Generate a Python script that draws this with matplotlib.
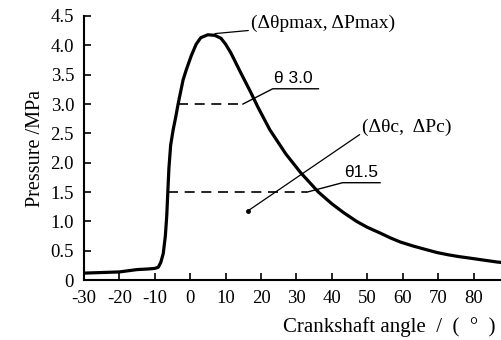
import numpy as np
import matplotlib
matplotlib.use("Agg")
import matplotlib.pyplot as plt

plt.rcParams["axes.unicode_minus"] = False

# crank angle (deg) and cylinder pressure (MPa)
angle = [-30, -25, -20, -15, -12, -10, -9, -8.3, -7.6, -7.0, -6.6, -6.3, -6.0,
         -5.5, -4.8, -4.0, -3.4, -2.0, -1.0, 0.3, 1.7, 3.0, 5.0, 7.0, 8.7, 10,
         11.5, 14.3, 17.1, 19.1, 22.5, 27, 31.2, 36.2, 40, 43.3, 47, 50, 53.7,
         56.5, 59.3, 63, 66, 69.7, 73, 76, 79, 83, 86.5, 88]
pressure = [0.12, 0.13, 0.14, 0.18, 0.19, 0.2, 0.22, 0.3, 0.45, 0.75, 1.1, 1.5,
            1.9, 2.3, 2.56, 2.8, 3.0, 3.41, 3.6, 3.82, 4.02, 4.13, 4.18, 4.17,
            4.12, 4.02, 3.87, 3.53, 3.2, 2.95, 2.56, 2.15, 1.83, 1.5, 1.3, 1.15,
            1.0, 0.9, 0.8, 0.72, 0.65, 0.58, 0.53, 0.47, 0.43, 0.4, 0.375,
            0.34, 0.31, 0.3]

xticks = [-30, -20, -10, 0, 10, 20, 30, 40, 50, 60, 70, 80]
yticks = [0, 0.5, 1.0, 1.5, 2.0, 2.5, 3.0, 3.5, 4.0, 4.5]
ytick_labels = ["0", "0.5", "1.0", "1.5", "2.0", "2.5", "3.0", "3.5", "4.0", "4.5"]

# dashed reference levels: (level, x start, x end)
level_30 = (3.0, -3.4, 14.9)
level_15 = (1.5, -6.2, 33.0)
combustion_point = (16.3, 1.18)

serif = "Liberation Serif"
sans = "Liberation Sans"

fig = plt.figure(figsize=(5.02, 3.40), dpi=100)
ax = fig.add_axes([0.167, 0.176, 0.833, 0.777])

ax.plot(angle, pressure, color="black", lw=2.3, solid_joinstyle="round")

ax.set_xlim(-29.6, 88)
ax.set_ylim(0, 4.5)
ax.set_xticks(xticks)
ax.set_yticks(yticks)
ax.set_yticklabels(ytick_labels)
ax.tick_params(direction="in", length=5, width=1.2, labelsize=13.5, pad=7)
for lab in ax.get_xticklabels() + ax.get_yticklabels():
    lab.set_family(serif)
for side in ["top", "right"]:
    ax.spines[side].set_visible(False)
for side in ["left", "bottom"]:
    ax.spines[side].set_linewidth(1.5)

ax.set_xlabel("Crankshaft angle  /  (  °  )", family=serif, fontsize=15,
              labelpad=2)
ax.xaxis.set_label_coords(0.73, -0.14)
ax.set_ylabel("Pressure /MPa", family=serif, fontsize=14.5, labelpad=4)

# dashed levels
for lvl, x0, x1 in [level_30, level_15]:
    ax.plot([x0, x1], [lvl, lvl], color="black", lw=1.2, ls=(0, (6, 4)))

# peak label
ip = int(np.argmax(pressure))
ax.annotate("(Δθpmax, ΔPmax)", xy=(angle[ip + 1], pressure[ip + 1] + 0.03),
            xytext=(17.2, 4.37), family=serif, fontsize=14, va="center",
            arrowprops=dict(arrowstyle="-", lw=0.9, color="black",
                            shrinkA=0, shrinkB=0))

# theta 3.0 label with underline
ax.plot([level_30[2], 23.3, 36.2], [3.0, 3.26, 3.26], color="black", lw=1.0)
ax.text(29.0, 3.3, "θ 3.0", family=sans, fontsize=12.5, ha="center",
        va="bottom")

# theta 1.5 label with underline
ax.plot([level_15[2], 43.0, 53.6], [1.5, 1.66, 1.66], color="black", lw=1.0)
ax.text(48.3, 1.7, "θ1.5", family=sans, fontsize=12.5, ha="center",
        va="bottom")

# combustion point label
ax.plot(*combustion_point, marker="o", ms=2.5, color="black")
ax.annotate("(Δθc,  ΔPc)", xy=combustion_point, xytext=(48.6, 2.6),
            family=serif, fontsize=14, va="center",
            arrowprops=dict(arrowstyle="-", lw=0.9, color="black",
                            shrinkA=0, shrinkB=0,
                            relpos=(0, 0.2)))

fig.savefig("out.png", dpi=100)
